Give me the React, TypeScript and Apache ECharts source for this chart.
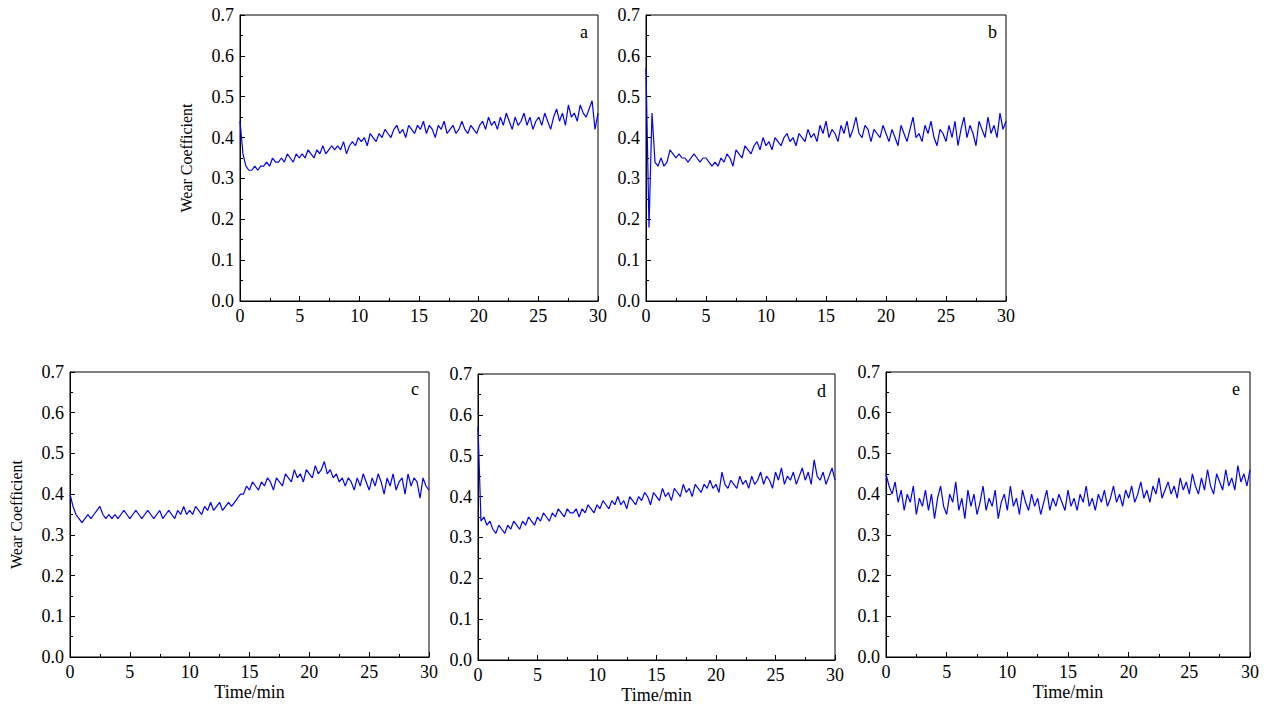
import { useEffect, useRef } from 'react'
import * as echarts from 'echarts'

const panelNames = ['a', 'b', 'c', 'd', 'e']

const wearA = [0.44,0.36,0.33,0.32,0.32,0.33,0.32,0.33,0.33,0.34,0.33,0.35,0.34,0.34,0.35,0.34,0.36,0.35,0.34,0.36,0.35,0.36,0.35,0.37,0.36,0.35,0.37,0.36,0.38,0.36,0.37,0.38,0.37,0.38,0.37,0.39,0.36,0.38,0.39,0.38,0.40,0.39,0.40,0.38,0.41,0.40,0.39,0.41,0.40,0.42,0.41,0.40,0.42,0.43,0.41,0.42,0.40,0.43,0.42,0.41,0.43,0.42,0.44,0.41,0.43,0.42,0.40,0.43,0.42,0.44,0.41,0.42,0.43,0.41,0.42,0.44,0.42,0.41,0.43,0.42,0.41,0.43,0.44,0.42,0.45,0.43,0.44,0.42,0.45,0.43,0.46,0.44,0.42,0.45,0.43,0.44,0.46,0.43,0.45,0.42,0.44,0.45,0.43,0.46,0.44,0.42,0.45,0.47,0.44,0.46,0.43,0.48,0.45,0.46,0.44,0.48,0.46,0.45,0.47,0.49,0.42,0.46]
const wearB = [0.57,0.18,0.46,0.34,0.33,0.35,0.33,0.34,0.37,0.36,0.35,0.36,0.35,0.35,0.34,0.35,0.36,0.35,0.34,0.35,0.35,0.34,0.33,0.34,0.33,0.35,0.34,0.36,0.35,0.33,0.37,0.36,0.35,0.38,0.37,0.36,0.38,0.39,0.37,0.40,0.38,0.39,0.37,0.40,0.39,0.38,0.40,0.41,0.39,0.40,0.38,0.41,0.40,0.39,0.42,0.40,0.41,0.39,0.43,0.41,0.44,0.40,0.42,0.41,0.39,0.43,0.41,0.44,0.40,0.42,0.45,0.41,0.40,0.43,0.42,0.39,0.42,0.41,0.40,0.43,0.41,0.39,0.42,0.40,0.38,0.43,0.41,0.39,0.42,0.45,0.40,0.41,0.39,0.43,0.41,0.44,0.40,0.38,0.42,0.41,0.39,0.43,0.40,0.44,0.38,0.42,0.45,0.40,0.43,0.41,0.38,0.44,0.42,0.40,0.45,0.41,0.43,0.40,0.46,0.42,0.44]
const wearC = [0.40,0.37,0.35,0.34,0.33,0.34,0.35,0.34,0.35,0.36,0.37,0.35,0.34,0.35,0.34,0.35,0.34,0.35,0.36,0.35,0.34,0.35,0.36,0.35,0.34,0.35,0.36,0.35,0.34,0.35,0.36,0.34,0.35,0.36,0.35,0.34,0.36,0.35,0.37,0.35,0.36,0.35,0.37,0.36,0.35,0.37,0.36,0.38,0.36,0.37,0.38,0.36,0.37,0.38,0.37,0.38,0.39,0.40,0.40,0.42,0.41,0.43,0.42,0.41,0.43,0.42,0.44,0.43,0.41,0.44,0.43,0.42,0.45,0.44,0.43,0.46,0.44,0.45,0.43,0.46,0.45,0.44,0.47,0.45,0.46,0.48,0.45,0.46,0.44,0.45,0.43,0.44,0.42,0.44,0.43,0.41,0.44,0.42,0.45,0.43,0.41,0.44,0.42,0.45,0.43,0.40,0.44,0.42,0.45,0.41,0.43,0.44,0.40,0.45,0.42,0.44,0.43,0.39,0.44,0.42,0.41]
const wearD = [0.57,0.34,0.35,0.33,0.34,0.32,0.31,0.33,0.32,0.31,0.33,0.32,0.34,0.33,0.32,0.34,0.33,0.35,0.34,0.33,0.35,0.34,0.36,0.35,0.34,0.36,0.35,0.37,0.36,0.35,0.37,0.36,0.36,0.37,0.35,0.37,0.36,0.38,0.37,0.36,0.38,0.37,0.39,0.38,0.37,0.39,0.38,0.40,0.38,0.39,0.37,0.40,0.39,0.38,0.40,0.39,0.41,0.40,0.38,0.41,0.40,0.39,0.42,0.40,0.41,0.39,0.42,0.41,0.40,0.43,0.41,0.42,0.40,0.43,0.42,0.41,0.43,0.42,0.44,0.42,0.43,0.41,0.46,0.43,0.42,0.44,0.43,0.42,0.45,0.43,0.44,0.42,0.45,0.43,0.44,0.46,0.43,0.45,0.44,0.42,0.46,0.44,0.47,0.43,0.45,0.44,0.46,0.43,0.45,0.47,0.44,0.46,0.43,0.49,0.45,0.44,0.46,0.43,0.45,0.47,0.44]
const wearE = [0.45,0.42,0.40,0.43,0.38,0.41,0.36,0.40,0.38,0.42,0.35,0.39,0.37,0.41,0.36,0.40,0.34,0.39,0.42,0.37,0.35,0.40,0.38,0.43,0.36,0.39,0.34,0.41,0.37,0.40,0.35,0.38,0.42,0.36,0.39,0.37,0.41,0.34,0.38,0.40,0.36,0.42,0.37,0.39,0.35,0.41,0.38,0.36,0.40,0.37,0.39,0.35,0.38,0.41,0.36,0.39,0.37,0.40,0.38,0.36,0.41,0.37,0.39,0.36,0.40,0.38,0.42,0.37,0.39,0.36,0.40,0.38,0.41,0.37,0.39,0.42,0.38,0.40,0.37,0.41,0.39,0.42,0.38,0.40,0.43,0.39,0.41,0.38,0.42,0.40,0.44,0.39,0.41,0.43,0.40,0.42,0.39,0.44,0.41,0.43,0.40,0.45,0.42,0.40,0.44,0.41,0.46,0.42,0.40,0.45,0.43,0.41,0.46,0.42,0.44,0.41,0.47,0.43,0.45,0.42,0.46]

const allWear = [wearA, wearB, wearC, wearD, wearE]

// panel boxes in px: left, top, width, height
const boxes = [
  [240, 15, 358, 286],
  [646, 15, 360, 286],
  [70, 372, 359, 285],
  [478, 374, 357, 286],
  [886, 372, 364, 285],
]

const font = "'Liberation Serif', serif"

export default function App() {
  const chartRef = useRef<HTMLDivElement>(null)

  useEffect(() => {
    document.body.style.margin = '0'
    if (!chartRef.current) return
    const chart = echarts.init(chartRef.current, undefined, { renderer: 'svg' })

    const grid = boxes.map(([left, top, width, height]) => ({
      left, top, width, height,
      show: true, borderColor: '#000', borderWidth: 1, backgroundColor: 'transparent',
    }))

    const xAxis = boxes.map((_, i) => ({
      type: 'value', gridIndex: i, min: 0, max: 30, interval: 5,
      name: i >= 2 ? 'Time/min' : '', nameLocation: 'middle', nameGap: 26,
      nameTextStyle: { fontFamily: font, fontSize: 18, color: '#000' },
      axisLine: { lineStyle: { color: '#000' } },
      axisTick: { inside: true, length: 5, lineStyle: { color: '#000' } },
      minorTick: { show: true, splitNumber: 2, length: 3, lineStyle: { color: '#000' } },
      splitLine: { show: false },
      axisLabel: { fontFamily: font, fontSize: 18, color: '#000', margin: 6 },
    }))

    const yAxis = boxes.map((_, i) => ({
      type: 'value', gridIndex: i, min: 0, max: 0.7, interval: 0.1,
      name: i === 0 || i === 2 ? 'Wear Coefficient' : '', nameLocation: 'middle', nameGap: 46,
      nameTextStyle: { fontFamily: font, fontSize: 16, color: '#000' },
      axisLine: { show: true, lineStyle: { color: '#000' } },
      axisTick: { show: true, inside: true, length: 5, lineStyle: { color: '#000' } },
      minorTick: { show: true, splitNumber: 2, length: 3, lineStyle: { color: '#000' } },
      splitLine: { show: false },
      axisLabel: { fontFamily: font, fontSize: 18, color: '#000', margin: 6, formatter: (v: number) => v.toFixed(1) },
    }))

    const series = allWear.map((vals, i) => ({
      type: 'line', xAxisIndex: i, yAxisIndex: i, showSymbol: false,
      lineStyle: { color: '#0000ff', width: 1.2 },
      data: vals.map((v, k) => [(k * 30) / (vals.length - 1), v]),
    }))

    const graphic = boxes.map(([left, top, width], i) => ({
      type: 'text', left: left + width - 18, top: top + 8,
      style: { text: panelNames[i], font: `18px ${font}`, fill: '#000' },
    }))

    chart.setOption({ animation: false, grid, xAxis, yAxis, series, graphic })
    return () => chart.dispose()
  }, [])

  return <div ref={chartRef} style={{ width: '1269px', height: '715px' }} />
}
